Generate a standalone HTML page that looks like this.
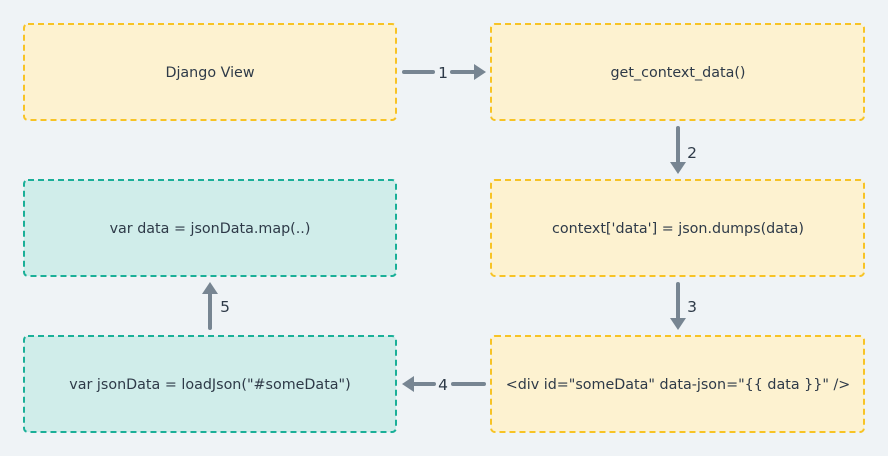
<!DOCTYPE html>
<html><head><style>
html,body{margin:0;padding:0;background:#eff3f6;}
svg{display:block}
text{font-family:"DejaVu Sans","Liberation Sans",sans-serif;font-size:14.3px;fill:#2e3a48;}
text.n{font-size:15.5px}
</style></head><body>
<svg width="888" height="456" viewBox="0 0 888 456" xmlns="http://www.w3.org/2000/svg">
<rect width="888" height="456" fill="#eff3f6"/>
<g stroke-width="2" stroke-dasharray="6,4">
<rect x="24" y="24" width="372" height="96" rx="4" fill="#fdf2d0" stroke="#f7c325"/>
<rect x="491" y="24" width="373" height="96" rx="4" fill="#fdf2d0" stroke="#f7c325"/>
<rect x="491" y="180" width="373" height="96" rx="4" fill="#fdf2d0" stroke="#f7c325"/>
<rect x="491" y="336" width="373" height="96" rx="4" fill="#fdf2d0" stroke="#f7c325"/>
<rect x="24" y="180" width="372" height="96" rx="4" fill="#d0edea" stroke="#1aaf98"/>
<rect x="24" y="336" width="372" height="96" rx="4" fill="#d0edea" stroke="#1aaf98"/>
</g>
<g text-anchor="middle">
<text x="210" y="77">Django View</text>
<text x="678" y="77">get_context_data()</text>
<text x="678" y="233">context['data'] = json.dumps(data)</text>
<text x="678" y="389">&lt;div id="someData" data-json="{{ data }}" /&gt;</text>
<text x="210" y="233">var data = jsonData.map(..)</text>
<text x="210" y="389">var jsonData = loadJson("#someData")</text>
</g>
<g stroke="#778592" stroke-width="4" stroke-linecap="round" fill="none">
<line x1="404" y1="72" x2="433" y2="72"/><line x1="452" y1="72" x2="474" y2="72"/>
<line x1="678" y1="128" x2="678" y2="162"/>
<line x1="678" y1="284" x2="678" y2="318"/>
<line x1="484" y1="384" x2="453" y2="384"/><line x1="434" y1="384" x2="414" y2="384"/>
<line x1="210" y1="328" x2="210" y2="294"/>
</g>
<g fill="#778592">
<polygon points="474,64 486,72 474,80"/>
<polygon points="670,162 678,174 686,162"/>
<polygon points="670,318 678,330 686,318"/>
<polygon points="414,376 402,384 414,392"/>
<polygon points="202,294 210,282 218,294"/>
</g>
<g text-anchor="middle">
<text class="n" x="443" y="78">1</text>
<text class="n" x="692" y="158">2</text>
<text class="n" x="692" y="312">3</text>
<text class="n" x="443" y="390">4</text>
<text class="n" x="225" y="312">5</text>
</g>
</svg>
</body></html>
